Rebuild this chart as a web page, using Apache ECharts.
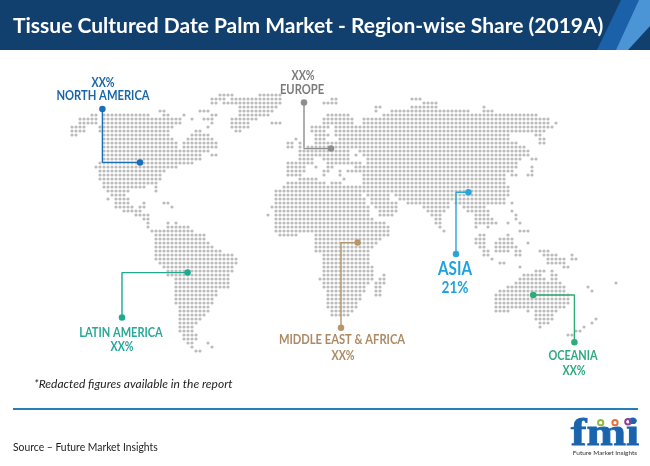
<!DOCTYPE html>
<html>
<head>
<meta charset="utf-8">
<title>Tissue Cultured Date Palm Market</title>
<script src="https://cdn.jsdelivr.net/npm/echarts@6/dist/echarts.min.js"></script>
<style>
html, body { margin: 0; padding: 0; background: #fff; }
#chart { width: 650px; height: 466px; }
</style>
</head>
<body>
<div id="chart"></div>
<script>
var chartTitle = 'Tissue Cultured Date Palm Market - Region-wise Share (2019A)';
var noteText = '*Redacted figures available in the report';
var sourceText = 'Source \u2013 Future Market Insights';

// dot map, one entry per row from the top, each "from-to" is a run of land columns
var landRows = [
	'38-41 48-53',
	'36-39 41-53 66-67 86-88',
	'36-37 39-53 64-67 89-92',
	'43-52 77-78 86-92 104',
	'23-24 33-35 43-51 77 81-100 104-106',
	'6-7 9-20 24-25 29 36-37 43-50 65-70 79-117',
	'3-7 9-28 31 34-36 41-47 64-71 74-120',
	'3-7 9-28 36 41-45 51-53 64-71 74-120 122',
	'1-4 8-26 35 41-45 61-65 67-121',
	'1-4 8-25 32-33 42-43 61-64 67-119',
	'1-2 9-25 31-35 62-65 67-110 117-118',
	'9-26 30-36 57 62-64 68-110 118-119',
	'9-27 29-37 55-56 58 62-112 118-119',
	'9-27 29-37 55-56 58 60-114',
	'9-35 58-70 73-115',
	'9-33 36-37 58-70 72 74-115',
	'9-33 58-61 64-70 75-113 116-117',
	'8-31 55-61 65-73 75-112',
	'7-27 55-59 62 65-66 72-112 116',
	'8-24 55-59 64-65 68 70-111 116',
	'8-23 55-58 64 68 74-109 111-112 115-116',
	'8-23 58-62 69 74-109',
	'9-22 55-64 66-68 74-109',
	'9-19 22 54-110',
	'10-15 22 52-74 75-110',
	'11-14 52-73 75-80 82-110',
	'10 12-15 52-74 76-80 83-109',
	'12-15 19 24-25 52-74 76-82 85-95 97-109 111',
	'12-16 18-19 26 51-75 77-82 89-95 99-104',
	'14-18 52-75 78-82 90-94 100-105 111',
	'17-20 50 52-75 78-81 91-93 102-105 112',
	'19-20 52-76 92-93 102-106 112',
	'20 25 27 52-79 92-93 102-107 110 113',
	'20 25-30 52-80 93 102 105',
	'21-31 52-80 94 113-115',
	'22-34 53-57 62-80 103-104 110',
	'22-34 62-78 102-104 108-111',
	'22-35 62-77 102-104 107-111 115',
	'22-36 62-76 103-104 107-112',
	'22-38 62-75 104-105 107-110 112-113 118-120',
	'22-41 64-75 104-105 112-113 119-122 126',
	'22-42 64-75 106 120-124 126-127',
	'23-42 64-75 108-109 120-124',
	'24-41 64-76 113 124-125',
	'25-41 64-76 117-119 121',
	'25-40 64-76 79 114-118 121-122',
	'27-40 63-76 78-79 113-119 121-122',
	'27-40 64-75 77-79 112-123 137',
	'27-40 64-74 77-78 110-124 130',
	'27-37 65-74 77-78 108-124 131',
	'27-37 65-73 77-78 107-125',
	'27-36 65-73 107-125',
	'27-36 65-72 107-125',
	'28-35 65-72 107-124',
	'28-35 66-71 107-110 115 117-122',
	'28-34 66-70 117-121',
	'28-33 117-121 132',
	'28-32 118-120 131',
	'28-31 118 129',
	'28-31 127-128',
	'29-32 125-126',
	'29-32',
	'30-31 35',
	'31 36',
	'32-33'
];

// callouts, in map columns and rows: label dot, elbow, dot on the region
var northAmericaPath = [[8.6, 3.5], [8.6, 16.85], [18, 16.85]];
var europePath = [[59, 1.9], [59, 13.4], [65.75, 13.4]];
var asiaPath = [[97, 39.75], [97, 24.3], [100.1, 24.3]];
var latinAmericaPath = [[13.5, 55.6], [13.5, 44.4], [29.9, 44.4]];
var middleEastPath = [[68.25, 58.2], [68.25, 36.9], [72.4, 36.9]];
var oceaniaPath = [[126.6, 61.8], [126.6, 50], [116.3, 50]];

var calloutPaths = [northAmericaPath, europePath, asiaPath, latinAmericaPath, middleEastPath, oceaniaPath];
var calloutColors = ['#1a6fb8', '#8e8e8e', '#2aa5da', '#20a98f', '#b8956a', '#2dab78'];

var fontName = 'Lato, "Open Sans", sans-serif';

function buildDots() {
	var dots = [];
	for (var r = 0; r < landRows.length; r++) {
		var runs = landRows[r].split(' ');
		for (var i = 0; i < runs.length; i++) {
			var ends = runs[i].split('-');
			var from = parseInt(ends[0], 10);
			var to = ends.length > 1 ? parseInt(ends[1], 10) : from;
			for (var c = from; c <= to; c++) {
				dots.push([c, r]);
			}
		}
	}
	return dots;
}

function label(text, x, y, size, color, squeeze) {
	return {
		type: 'text',
		x: x,
		y: y,
		scaleX: squeeze,
		silent: true,
		style: { text: text, fill: color, font: 'bold ' + size + 'px ' + fontName, textAlign: 'center', textVerticalAlign: 'middle' }
	};
}

var series = [{
	type: 'scatter',
	data: buildDots(),
	symbol: 'circle',
	symbolSize: 3.2,
	itemStyle: { color: '#bcbcbc', opacity: 1 },
	silent: true,
	z: 1
}];

for (var k = 0; k < calloutPaths.length; k++) {
	series.push({
		type: 'line',
		data: calloutPaths[k],
		showSymbol: false,
		lineStyle: { color: calloutColors[k], width: 1.4 },
		silent: true,
		z: 2
	});
	series.push({
		type: 'scatter',
		data: [calloutPaths[k][0], calloutPaths[k][2]],
		symbolSize: 6.5,
		itemStyle: { color: calloutColors[k], opacity: 1 },
		silent: true,
		z: 3
	});
}

var graphics = [
	{ type: 'rect', shape: { x: 0, y: 0, width: 650, height: 50 }, style: { fill: '#11406f' }, z: -3 },
	{ type: 'polygon', shape: { points: [[632, 0], [650, 0], [650, 26], [628, 50], [612, 50]] }, style: { fill: '#4b94d6' }, z: -1 },
	{ type: 'polygon', shape: { points: [[621, 0], [639, 0], [616, 50], [597, 50]] }, style: { fill: '#1b61aa' }, z: -1 },
	{
		type: 'text', x: 13, y: 26, silent: true,
		style: { text: chartTitle, fill: '#fff', font: 'bold 21px ' + fontName, textVerticalAlign: 'middle' }
	},
	label('XX%', 103, 83, 13, '#1a66a8', 0.82),
	label('NORTH AMERICA', 103, 96, 13, '#1a66a8', 0.86),
	label('XX%', 303, 76, 13, '#7b7b7b', 0.82),
	label('EUROPE', 302, 90, 13, '#7b7b7b', 0.86),
	label('ASIA', 455, 269, 19, '#20a3dc', 0.8),
	label('21%', 455, 288, 17, '#20a3dc', 0.8),
	label('LATIN AMERICA', 121, 333, 13, '#2aa79b', 0.85),
	label('XX%', 122, 347, 13, '#2aa79b', 0.82),
	label('MIDDLE EAST & AFRICA', 342, 340, 13, '#ad8a63', 0.86),
	label('XX%', 343, 356, 13, '#ad8a63', 0.82),
	label('OCEANIA', 573, 356, 13, '#2fa97f', 0.84),
	label('XX%', 574, 371, 13, '#2fa97f', 0.82),
	{
		type: 'text', x: 34, y: 384, silent: true,
		style: { text: noteText, fill: '#222', font: 'italic 12px ' + fontName, textVerticalAlign: 'middle' }
	},
	{ type: 'rect', shape: { x: 13, y: 408, width: 625, height: 2 }, style: { fill: '#2a7cb8' } },
	{
		type: 'text', x: 13, y: 447, scaleX: 0.9, silent: true,
		style: { text: sourceText, fill: '#222', font: '11.5px ' + fontName, textVerticalAlign: 'middle' }
	},
	// logo
	{
		type: 'text', x: 605, y: 435, scaleX: 1.25, silent: true,
		style: { text: 'fmi', fill: '#1a64ae', stroke: '#1a64ae', lineWidth: 0.8, font: 'bold 38px "Liberation Serif", serif', textAlign: 'center', textVerticalAlign: 'middle' }
	},
	{ type: 'circle', shape: { cx: 600.7, cy: 422.7, r: 2.6 }, style: { fill: 'none', stroke: '#8dbb3f', lineWidth: 2 } },
	{ type: 'circle', shape: { cx: 615, cy: 422.7, r: 2.6 }, style: { fill: 'none', stroke: '#e8703a', lineWidth: 2 } },
	{ type: 'circle', shape: { cx: 628, cy: 421.7, r: 2.8 }, style: { fill: 'none', stroke: '#8a3f98', lineWidth: 2 } },
	{
		type: 'text', x: 605, y: 453, silent: true,
		style: { text: 'Future Market Insights', fill: '#333', font: '6.5px ' + fontName, textAlign: 'center', textVerticalAlign: 'middle' }
	}
];

var myChart = echarts.init(document.getElementById('chart'), null, { renderer: 'canvas' });

var option = {
	animation: false,
	backgroundColor: '#fff',
	grid: { left: 0, right: 0, top: 0, bottom: 0 },
	xAxis: { type: 'value', min: -17, max: 145.5, show: false },
	yAxis: { type: 'value', min: -23.75, max: 92.75, inverse: true, show: false },
	graphic: graphics,
	series: series
};

myChart.setOption(option);
</script>
</body>
</html>
